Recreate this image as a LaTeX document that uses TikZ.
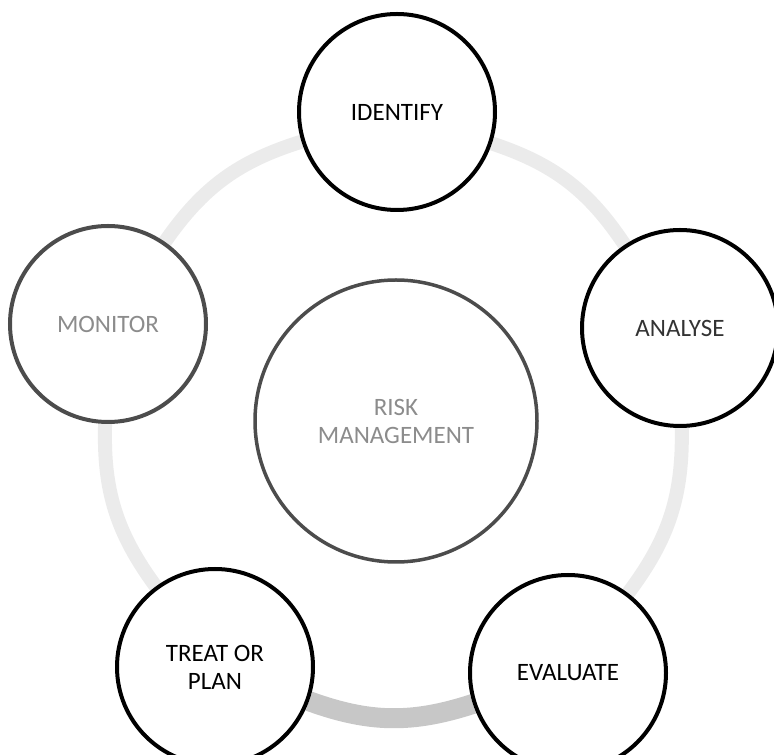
\documentclass[tikz,border=0pt]{standalone}
\usepackage{fontspec}
\setmainfont{Carlito}
\usetikzlibrary{backgrounds}

\begin{document}
\begin{tikzpicture}[
  x=1pt, y=1pt,
  every node/.style={font=\fontsize{25}{28}\selectfont},
  stage/.style={draw, circle, line width=4pt, minimum size=196pt,
                align=center, inner sep=0pt},
  faded/.style={draw=black!70, text=black!45},
  hub/.style={stage, line width=3.5pt, minimum size=282pt},
  link/.style={draw=black!8, line width=14pt, bend left=19},
]
\useasboundingbox (0,0) rectangle (774,755);
% centre and the five stages
\node[hub, faded] (risk) at (396,334) {RISK\\MANAGEMENT};
\node[stage] (identify) at (397,643) {IDENTIFY};
\node[stage, text=black!80] (analyse) at (680,427) {ANALYSE};
\node[stage] (evaluate) at (568,82) {EVALUATE};
\node[stage] (treat) at (215,88) {TREAT OR\\PLAN};
\node[stage, faded] (monitor) at (108,431) {MONITOR};
% faint cycle behind the circles
\begin{scope}[on background layer]
\draw[link] (identify) to (analyse);
\draw[link] (analyse) to (evaluate);
\draw[link, draw=black!22, line width=20pt] (evaluate) to (treat);
\draw[link] (treat) to (monitor);
\draw[link] (monitor) to (identify);
\end{scope}
\end{tikzpicture}
\end{document}
